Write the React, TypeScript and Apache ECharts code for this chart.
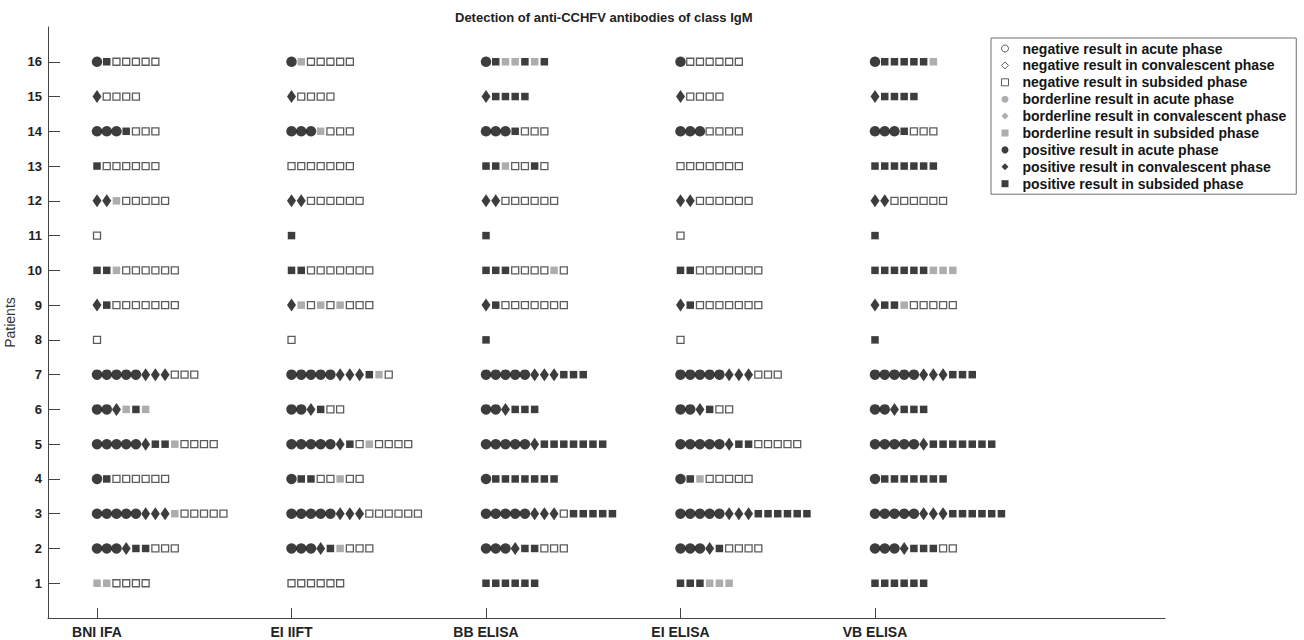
import React, { useEffect, useRef } from "react";
import * as echarts from "echarts";

// Methods (x-axis categories)
const methods = ["BNI IFA", "EI IIFT", "BB ELISA", "EI ELISA", "VB ELISA"];
const patientTicks = [1, 2, 3, 4, 5, 6, 7, 8, 9, 10, 11, 12, 13, 14, 15, 16];

// Result codes: A/C/S = positive acute/convalescent/subsided,
// a/c/s = borderline acute/convalescent/subsided, o/v/n = negative acute/convalescent/subsided.
// Each array lists patients 1..16; each string is the sequence of results for that patient.
const bniIfa = [
  "ssnnnn", "AAACSSnnn", "AAAAACCCsnnnnn", "ASnnnnnn", "AAAAACSSsnnnn", "AACsSs",
  "AAAAACCCnnn", "n", "CSnnnnnnn", "SSsnnnnnn", "n", "CCsnnnnn", "Snnnnnn",
  "AAASnnn", "Cnnnn", "ASnnnnn",
];
const eiIift = [
  "nnnnnn", "AAACSsnnn", "AAAAACCCnnnnnn", "ASSnnsnn", "AAAAACSnsnnnn", "AACSnn",
  "AAAAACCCSsn", "n", "Csnsnsnnn", "SSnnnnnnn", "S", "CCnnnnnn", "nnnnnnn",
  "AAAsnnn", "Cnnnn", "Asnnnnn",
];
const bbElisa = [
  "SSSSSS", "AAACSSnnn", "AAAAACCCnSSSSS", "ASSSSSSS", "AAAAACSSSSSSS", "AACSSS",
  "AAAAACCCSSS", "S", "CSnnnnnnn", "SSSnnnnsn", "S", "CCnnnnnn", "SSsnnSn",
  "AAASnnn", "CSSSS", "ASssSsS",
];
const eiElisa = [
  "SSSsss", "AAACSnnnn", "AAAAACCCSSSSSS", "ASsnnnnn", "AAAAACSSnnnnn", "AACSnn",
  "AAAAACCCnnn", "n", "CSnnnnnnn", "SSnnnnnnn", "n", "CCnnnnnn", "nnnnnnn",
  "AAAnnnn", "Cnnnn", "Annnnnn",
];
const vbElisa = [
  "SSSSSS", "AAACSSSnn", "AAAAACCCSSSSSS", "ASSSSSSS", "AAAAACSSSSSSS", "AACSSS",
  "AAAAACCCSSS", "S", "CSSsnnnnn", "SSSSSSsss", "S", "CCnnnnnn", "SSSSSSS",
  "AAASnnn", "CSSSS", "ASSSSSs",
];
const methodResults = [bniIfa, eiIift, bbElisa, eiElisa, vbElisa];

const resultCodes = ["o", "v", "n", "a", "c", "s", "A", "C", "S"];
const resultNames = [
  "negative result in acute phase",
  "negative result in convalescent phase",
  "negative result in subsided phase",
  "borderline result in acute phase",
  "borderline result in convalescent phase",
  "borderline result in subsided phase",
  "positive result in acute phase",
  "positive result in convalescent phase",
  "positive result in subsided phase",
];

const FONT = "'Liberation Sans', Arial, Helvetica, sans-serif";
const STEP = 0.05; // spacing between successive results, in method units

function phaseOf(code: string) {
  const lower = code.toLowerCase();
  return lower === "a" || lower === "o" ? "acute" : lower === "c" || lower === "v" ? "conv" : "sub";
}

function styleFor(code: string) {
  const phase = phaseOf(code);
  const symbol = phase === "acute" ? "circle" : phase === "conv" ? "diamond" : "rect";
  const symbolSize = phase === "acute" ? 10.5 : phase === "conv" ? [9, 13] : 7.5;
  let itemStyle: any;
  if (code === "o" || code === "v" || code === "n") {
    itemStyle = { color: "#ffffff", borderColor: "#333333", borderWidth: 1.3 };
  } else if (code === code.toLowerCase()) {
    itemStyle = { color: "#999999" };
  } else {
    itemStyle = { color: "#0d0d0d" };
  }
  return { symbol, symbolSize: code === "n" ? 7 : symbolSize, itemStyle };
}

export default function App() {
  const ref = useRef<HTMLDivElement>(null);
  useEffect(() => {
    if (!ref.current) return;
    const chart = echarts.init(ref.current, undefined, { renderer: "svg" });

    const series = resultCodes.map((code, ci) => {
      const data: number[][] = [];
      methodResults.forEach((rows, mi) => {
        rows.forEach((seq, pi) => {
          for (let k = 0; k < seq.length; k++) {
            if (seq[k] === code) data.push([mi + 1 + k * STEP, patientTicks[pi]]);
          }
        });
      });
      const st = styleFor(code);
      return {
        type: "scatter",
        name: resultNames[ci],
        data,
        symbol: st.symbol,
        symbolSize: st.symbolSize,
        itemStyle: st.itemStyle,
        emphasis: { disabled: true },
      };
    });

    const legendData = resultCodes.map((code, ci) => {
      const phase = phaseOf(code);
      const st = styleFor(code);
      return {
        name: resultNames[ci],
        icon: phase === "acute" ? "circle" : phase === "conv" ? "diamond" : "rect",
        itemStyle: { ...st.itemStyle, borderWidth: st.itemStyle.borderWidth ? 1 : 0 },
      };
    });

    chart.setOption({
      animation: false,
      title: {
        text: "Detection of anti-CCHFV antibodies of class IgM",
        left: 455,
        top: 11,
        padding: 0,
        textStyle: { fontFamily: FONT, fontSize: 13, fontWeight: "bold", color: "#222" },
      },
      legend: {
        orient: "vertical",
        left: 991,
        top: 38,
        padding: [3, 10, 3, 10],
        borderColor: "#707070",
        borderWidth: 1,
        itemWidth: 7,
        itemHeight: 7,
        itemGap: 1.9,
        selectedMode: false,
        data: legendData,
        textStyle: {
          fontFamily: FONT,
          fontSize: 14,
          fontWeight: "bold",
          color: "#151515",
          lineHeight: 15,
          padding: [0, 0, 0, 9],
        },
      },
      grid: {
        left: 48,
        right: 139,
        top: 27,
        bottom: 22,
        containLabel: false,
        outerBoundsMode: "none",
      },
      xAxis: {
        type: "value",
        min: 0.748,
        max: 6.491,
        splitLine: { show: false },
        axisLine: { lineStyle: { color: "#444", width: 1 } },
        axisTick: { inside: true, length: 10, customValues: [1, 2, 3, 4, 5], lineStyle: { color: "#444" } },
        axisLabel: {
          customValues: [1, 2, 3, 4, 5],
          formatter: (v: number) => methods[Math.round(v) - 1] ?? "",
          fontFamily: FONT,
          fontSize: 14,
          fontWeight: "bold",
          color: "#222",
          margin: 7,
        },
      },
      yAxis: {
        type: "value",
        min: 0,
        max: 17,
        name: "Patients",
        nameLocation: "middle",
        nameGap: 30,
        nameTextStyle: { fontFamily: FONT, fontSize: 14, color: "#333" },
        splitLine: { show: false },
        axisLine: { show: true, lineStyle: { color: "#444", width: 1 } },
        axisTick: { show: true, inside: true, length: 12, customValues: patientTicks, lineStyle: { color: "#444" } },
        axisLabel: {
          customValues: patientTicks,
          fontFamily: FONT,
          fontSize: 13,
          fontWeight: "bold",
          color: "#222",
          margin: 6,
        },
      },
      series,
    });
    return () => chart.dispose();
  }, []);

  return (
    <div
      ref={ref}
      style={{ position: "fixed", left: 0, top: 0, width: 1304, height: 640, background: "#fff" }}
    />
  );
}
